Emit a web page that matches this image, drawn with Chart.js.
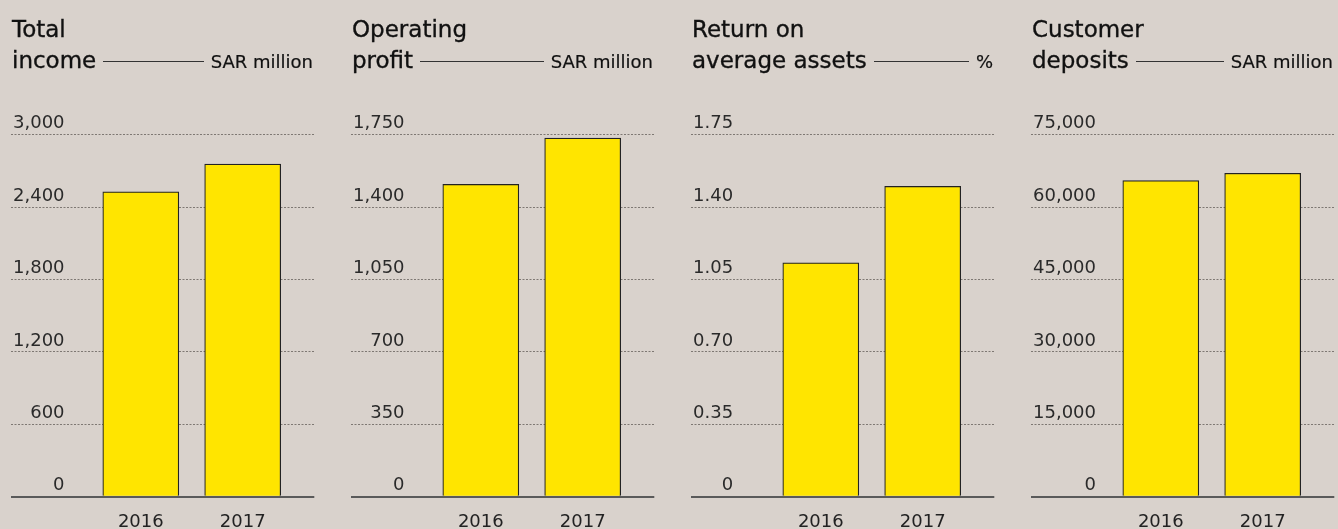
<!DOCTYPE html>
<html>
<head>
<meta charset="utf-8">
<script src="https://cdn.jsdelivr.net/npm/chart.js@4/dist/chart.umd.min.js"></script>
<style>
  html, body { margin: 0; padding: 0; background: #d9d2cc; overflow: hidden; }
  body { width: 1338px; height: 529px; position: relative; font-family: "DejaVu Sans", sans-serif; color: #111; }
  .panel { position: absolute; top: 0; width: 340px; height: 529px; }
  .panel canvas { position: absolute; left: 0; top: 0; }
  .title { position: absolute; left: 12px; top: 14.3px; width: 301px; font-size: 23px; line-height: 31px; -webkit-text-stroke: 0.35px #111; }
  .row { display: flex; align-items: baseline; white-space: nowrap; }
  .rule { flex: 1; border-top: 1px solid #333; margin: 0 7px 0 7px; align-self: center; }
  .unit { font-size: 18px; -webkit-text-stroke: 0.2px #111; }
</style>
</head>
<body>
<script>
// values
const years = ['2016', '2017'];
const totalIncome = [2527, 2757];
const operatingProfit = [1510, 1734];
const returnOnAssets = [1.13, 1.50];
const customerDeposits = [65470, 67000];

const titles = [['Total', 'income'], ['Operating', 'profit'], ['Return on', 'average assets'], ['Customer', 'deposits']];
const units = ['SAR million', 'SAR million', '%', 'SAR million'];
const axisMax = [3000, 1750, 1.75, 75000];
const decimals = [0, 0, 2, 0];
const series = [totalIncome, operatingProfit, returnOnAssets, customerDeposits];

const isZero = ctx => ctx.tick && ctx.tick.value === 0;

series.forEach((values, p) => {
  const panel = document.createElement('div');
  panel.className = 'panel';
  panel.style.left = (p * 340) + 'px';
  panel.innerHTML =
    '<canvas width="340" height="529"></canvas>' +
    '<div class="title"><div>' + titles[p][0] + '</div>' +
    '<div class="row"><span>' + titles[p][1] + '</span><span class="rule"></span>' +
    '<span class="unit">' + units[p] + '</span></div></div>';
  document.body.appendChild(panel);

  const max = axisMax[p];
  new Chart(panel.querySelector('canvas').getContext('2d'), {
    type: 'bar',
    data: {
      datasets: [{
        data: values.map((v, i) => ({ x: i, y: v })),
        backgroundColor: '#ffe500',
        borderColor: '#222',
        borderWidth: 1.2,
        barThickness: 76
      }]
    },
    options: {
      responsive: false,
      animation: false,
      layout: { padding: { left: 11.3, right: 25.7, top: 134.7, bottom: 0 } },
      plugins: { legend: { display: false }, tooltip: { enabled: false } },
      scales: {
        x: {
          type: 'linear',
          offset: false,
          min: -1.271,
          max: 1.703,
          grid: { display: false },
          border: { display: false },
          afterBuildTicks: s => { s.ticks = years.map((y, i) => ({ value: i })); },
          afterFit: s => { s.height = 32.3; },
          ticks: {
            callback: v => years[v],
            padding: 7,
            color: '#222',
            font: { family: 'DejaVu Sans', size: 18 }
          }
        },
        y: {
          min: 0,
          max: max,
          afterFit: s => { s.width = 0; },
          ticks: {
            stepSize: max / 5,
            mirror: true,
            crossAlign: 'far',
            padding: 1.7,
            labelOffset: -11,
            color: '#2a2a2a',
            font: { family: 'DejaVu Sans', size: 18 },
            callback: v => v === 0 ? '0' : Number(v).toLocaleString('en-US', {
              minimumFractionDigits: decimals[p], maximumFractionDigits: decimals[p]
            })
          },
          grid: {
            drawTicks: false,
            color: ctx => isZero(ctx) ? '#5a5a5a' : '#7e7873',
            lineWidth: ctx => isZero(ctx) ? 2 : 1
          },
          border: {
            display: false,
            dash: ctx => isZero(ctx) ? [] : [2, 1.5]
          }
        }
      }
    }
  });
});
</script>
</body>
</html>
